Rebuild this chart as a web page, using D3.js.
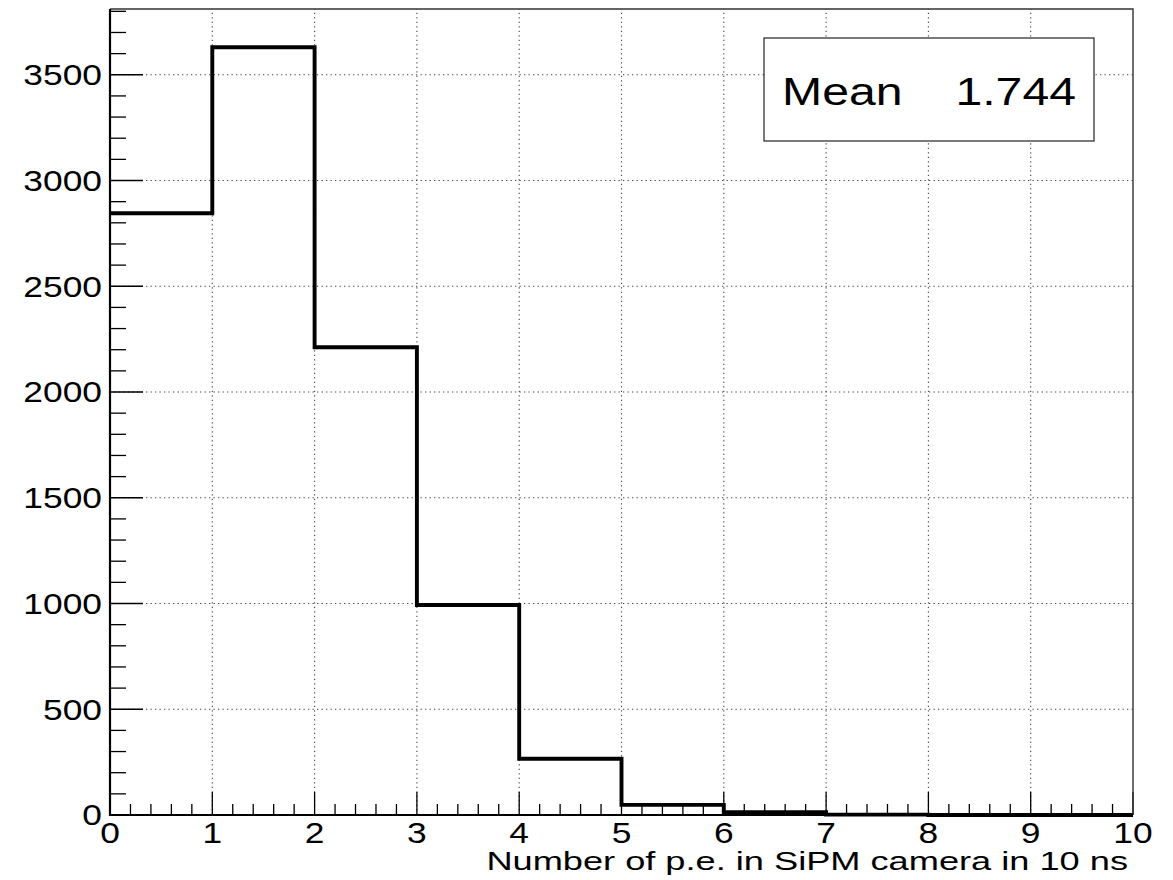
<!DOCTYPE html>
<html>
<head>
<meta charset="utf-8">
<script src="https://cdn.jsdelivr.net/npm/d3@7"></script>
<style>
  html,body{margin:0;padding:0;background:#fff;}
  svg text{font-family:"Liberation Sans",Arial,Helvetica,sans-serif;fill:#000;}
</style>
</head>
<body>
<div id="chart"></div>
<script>
// histogram data: bin lower edges and counts
const binLow = [0,1,2,3,4,5,6,7,8,9];
const counts = [2845,3630,2212,993,266,48,13,2,0,0];
const binWidth = 1;
const xTicks = [0,1,2,3,4,5,6,7,8,9,10];
const yTicks = [0,500,1000,1500,2000,2500,3000,3500];
const statLabel = "Mean";
const statValue = "1.744";
const xTitle = "Number of p.e. in SiPM camera in 10 ns";

(function(){
  const W=1173,H=880;
  const L=110,R=1133,T=9,B=815;
  const SX=1.22; // horizontal stretch of the text in the picture

  const svg=d3.select("#chart").append("svg")
      .attr("width",W).attr("height",H);

  const x=d3.scaleLinear().domain([0,10]).range([L,R]);
  const y=d3.scaleLinear().domain([0,3811]).range([B,T]);

  // grid
  const grid=svg.append("g").attr("stroke","#444").attr("stroke-width",1.1)
      .attr("stroke-dasharray","1.3,3.2");
  grid.selectAll("line.gx").data(xTicks.slice(1,-1)).join("line")
    .attr("x1",d=>x(d)).attr("x2",d=>x(d)).attr("y1",B).attr("y2",T);
  grid.selectAll("line.gy").data(yTicks.slice(1)).join("line")
    .attr("x1",L).attr("x2",R).attr("y1",d=>y(d)).attr("y2",d=>y(d));

  // minor ticks
  const yMinor=d3.range(100,3900,100).filter(v=>v%500!==0);
  const xMinor=d3.range(0,50).map(i=>i*0.2).filter(v=>Math.abs(v-Math.round(v))>1e-6);
  const tk=svg.append("g").attr("stroke","#000").attr("stroke-width",1.3);
  tk.selectAll("line.ym").data(yMinor).join("line")
    .attr("x1",L).attr("x2",L+16).attr("y1",d=>y(d)).attr("y2",d=>y(d));
  tk.selectAll("line.yM").data(yTicks).join("line")
    .attr("x1",L).attr("x2",L+33).attr("y1",d=>y(d)).attr("y2",d=>y(d));
  tk.selectAll("line.xm").data(xMinor).join("line")
    .attr("x1",d=>x(d)).attr("x2",d=>x(d)).attr("y1",B).attr("y2",B-11);
  tk.selectAll("line.xM").data(xTicks).join("line")
    .attr("x1",d=>x(d)).attr("x2",d=>x(d)).attr("y1",B).attr("y2",B-23);

  // histogram outline
  const pts=[];
  binLow.forEach((b,i)=>{
    pts.push([x(b),y(counts[i])]);
    pts.push([x(b+binWidth),y(counts[i])]);
  });
  svg.append("path")
    .attr("d",d3.line()(pts))
    .attr("fill","none").attr("stroke","#000").attr("stroke-width",3.9)
    .attr("stroke-linejoin","miter");

  // frame
  svg.append("path")
    .attr("d",`M${L},${T}H${R}V${B}`)
    .attr("fill","none").attr("stroke","#333").attr("stroke-width",1.4);
  svg.append("path")
    .attr("d",`M${L},${T}V${B}H${R}`)
    .attr("fill","none").attr("stroke","#000").attr("stroke-width",2.2);

  // tick labels
  svg.selectAll("text.yl").data(yTicks).join("text")
    .attr("transform",d=>`translate(${L-8},${y(d)+10.4}) scale(${SX},1)`)
    .attr("text-anchor","end").attr("font-size",29)
    .text(d=>d);
  svg.selectAll("text.xl").data(xTicks).join("text")
    .attr("transform",d=>`translate(${x(d)},843) scale(${SX},1)`)
    .attr("text-anchor","middle").attr("font-size",29)
    .text(d=>d);

  // axis title
  svg.append("text")
    .attr("transform",`translate(1128,870) scale(1.42,1)`)
    .attr("text-anchor","end").attr("font-size",25.5)
    .text(xTitle);

  // stats box
  const bx=764,by=38,bw=330,bh=103;
  svg.append("rect").attr("x",bx).attr("y",by).attr("width",bw).attr("height",bh)
    .attr("fill","#fff").attr("stroke","#222").attr("stroke-width",1.2);
  svg.append("text")
    .attr("transform",`translate(782,105) scale(${SX},1)`)
    .attr("font-size",39.5).text(statLabel);
  svg.append("text")
    .attr("transform",`translate(1076,105) scale(${SX},1)`)
    .attr("text-anchor","end").attr("font-size",39.5).text(statValue);
})();
</script>
</body>
</html>
